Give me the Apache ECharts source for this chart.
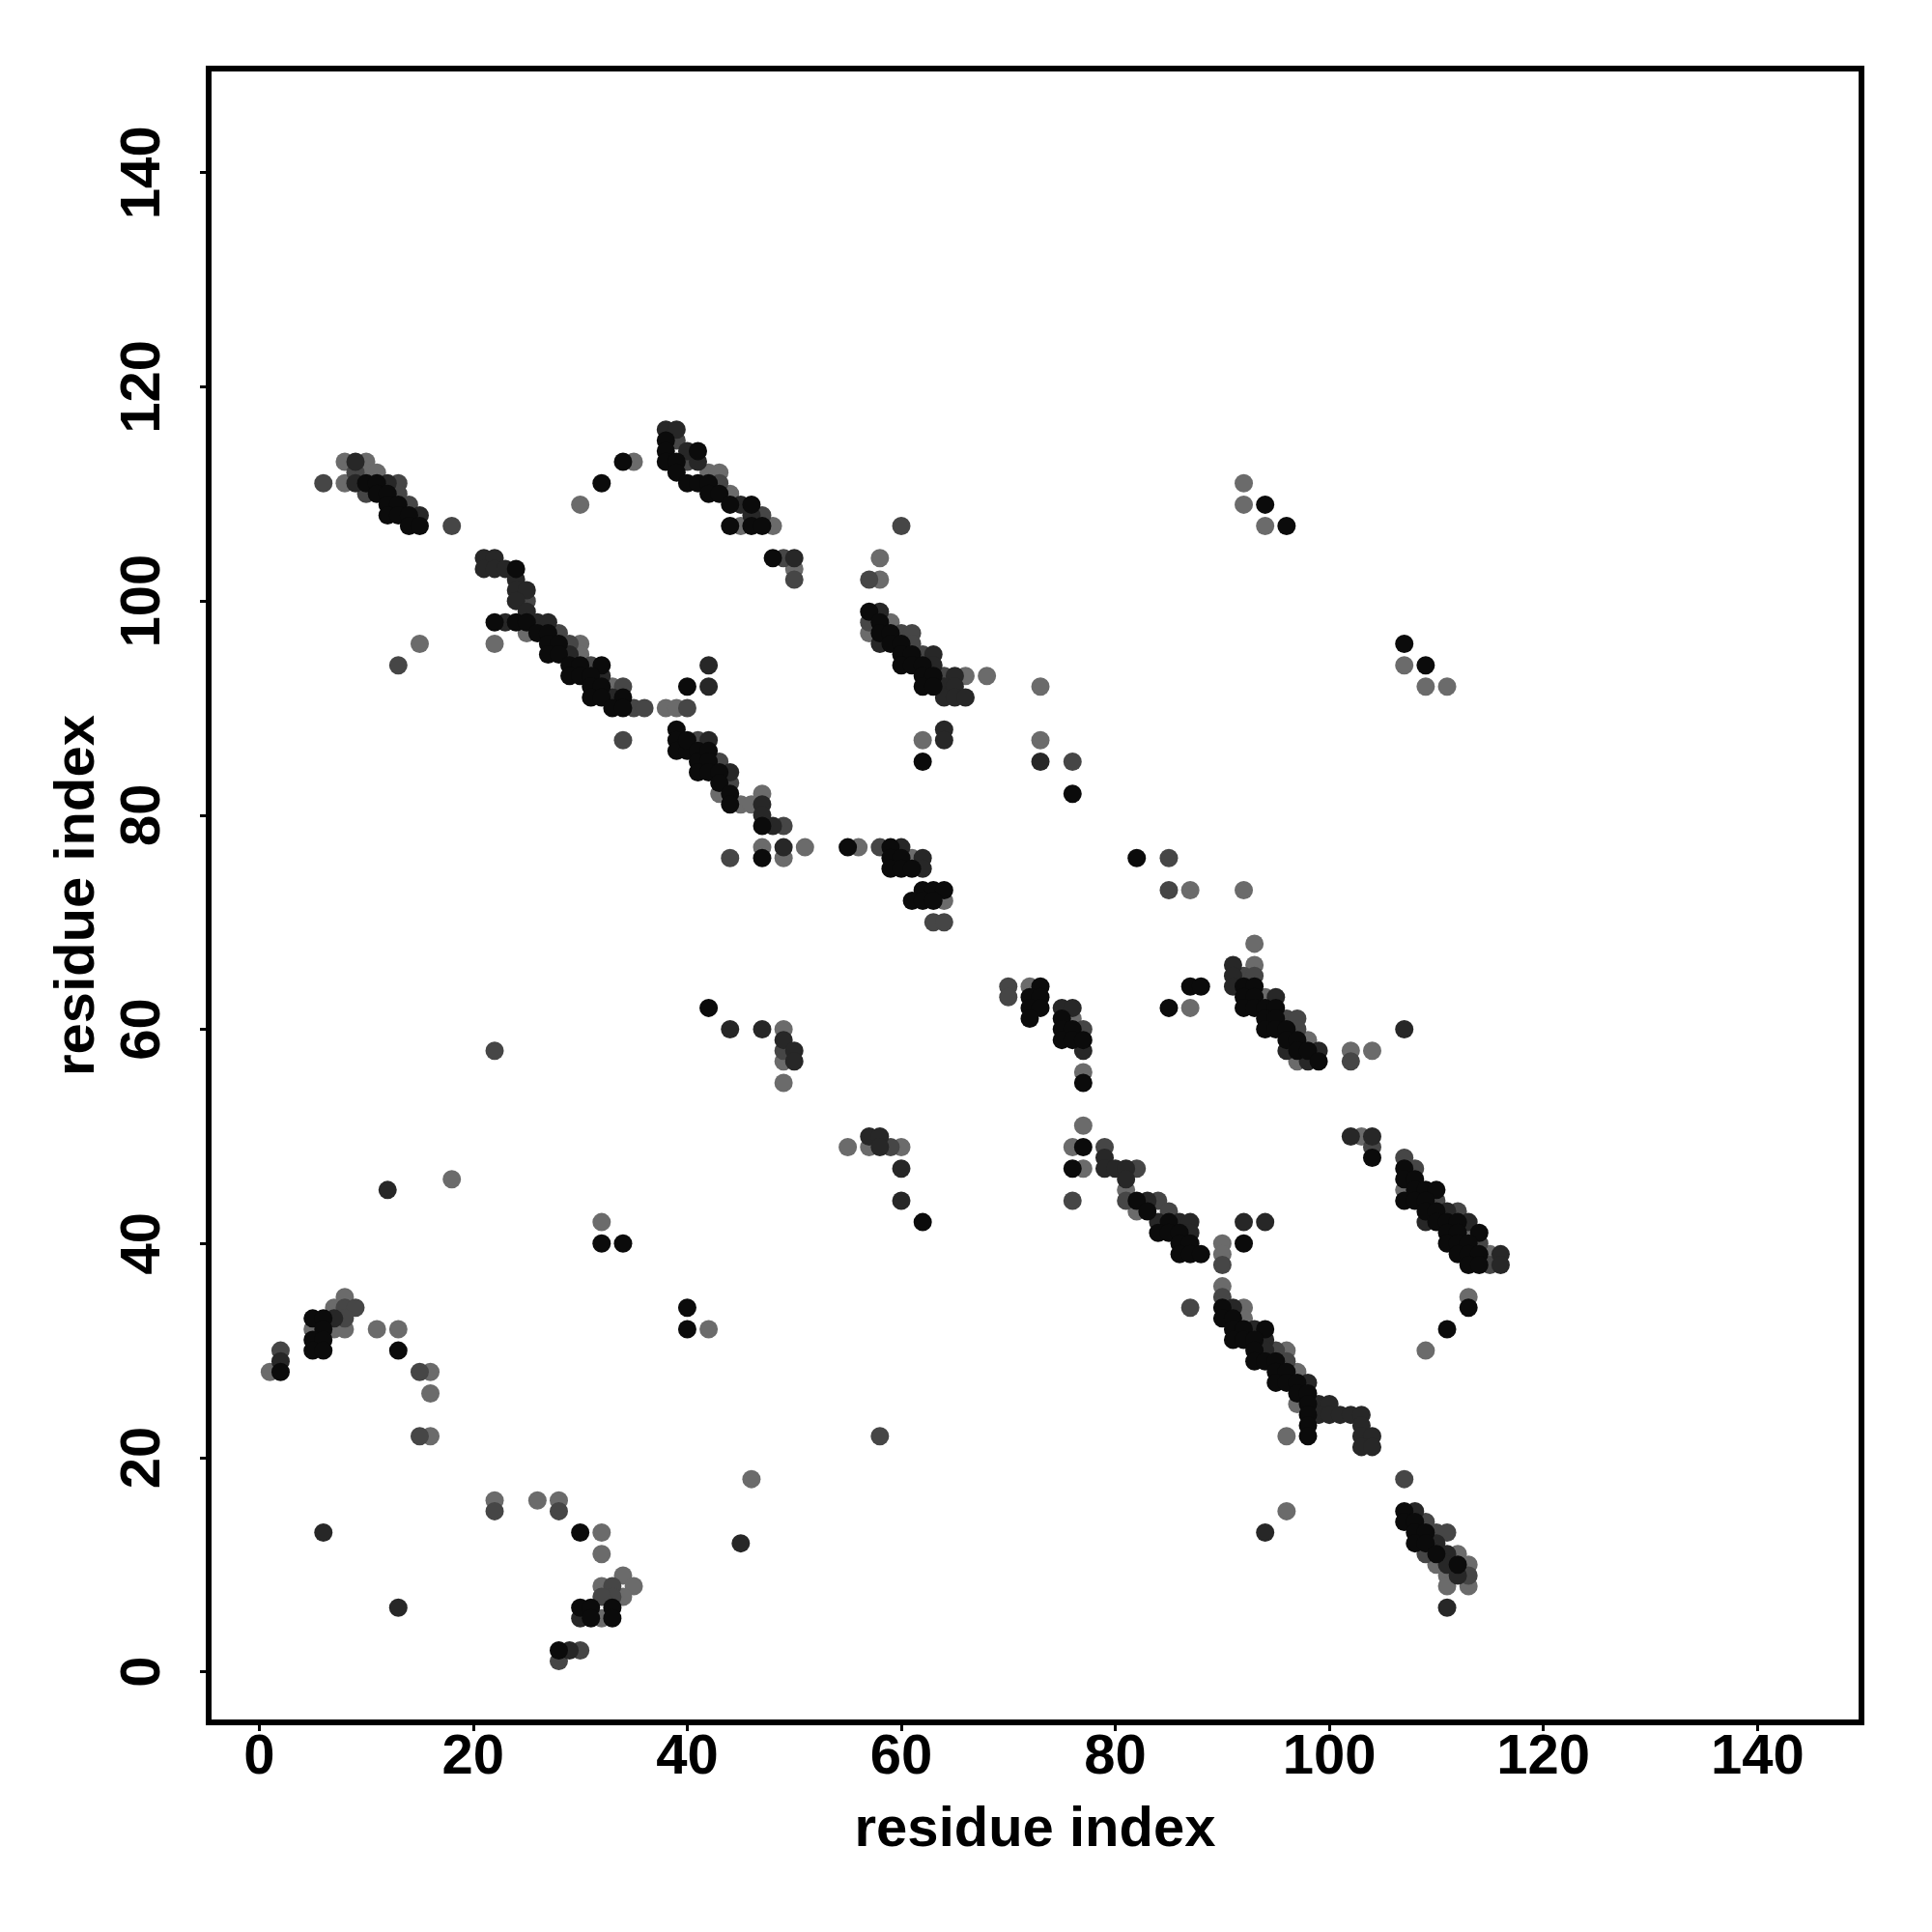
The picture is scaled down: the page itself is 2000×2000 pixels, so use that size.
<!DOCTYPE html>
<html>
<head>
<meta charset="utf-8">
<script src="https://cdn.jsdelivr.net/npm/echarts@6/dist/echarts.min.js"></script>
<style>
html,body{margin:0;padding:0;background:#fff;}
#chart{width:2000px;height:2000px;}
</style>
</head>
<body>
<div id="chart"></div>
<script>
// tick values
const tickValues = [0, 20, 40, 60, 80, 100, 120, 140];

// contact points [i, j] grouped by grey shade
const blackPts = [
[10,111],[11,111],[11,110],[12,110],[12,109],[13,109],[12,108],[13,108],[14,108],[14,107],[15,107],
[34,113],[32,111],[38,115],[38,114],[41,114],[38,113],[39,113],[39,112],[40,111],[41,111],[42,111],[42,110],[43,110],[44,109],[46,109],[44,107],[46,107],[47,107],[48,104],
[24,103],[22,98],[24,98],[25,98],[26,97],[27,97],[27,96],[28,96],[27,95],[28,95],[29,94],[30,94],[32,94],[29,93],[30,93],[31,93],[31,92],[32,92],[31,91],[32,91],[34,91],[33,90],[34,90],
[39,88],[39,87],[39,86],[40,86],[40,87],[41,86],[41,85],[42,86],[42,85],[41,84],[42,84],[43,84],[43,83],[44,82],[44,81],[47,79],[47,76],[40,92],
[57,99],[58,98],[58,97],[59,97],[59,96],[60,96],[60,95],[61,95],[60,94],[61,94],[62,94],[62,93],[63,93],[62,92],[63,92],[62,85],[76,82],
[55,77],[59,77],[59,76],[60,76],[59,75],[60,75],[61,75],[62,73],[63,73],[64,73],[61,72],[62,72],[63,72],
[42,62],[73,64],[72,63],[73,63],[72,62],[73,62],[72,61],[75,61],[75,60],[76,60],[75,59],[76,59],[77,59],[77,55],[62,42],
[77,49],[76,47],[82,44],[83,43],[85,42],[84,41],[85,41],[86,41],[86,40],[87,40],[86,39],[87,39],[88,39],[92,40],
[92,64],[93,64],[92,63],[93,63],[92,62],[93,62],[94,62],[95,62],[94,61],[95,61],[94,60],[95,60],[96,60],[96,59],[97,59],[97,58],[98,58],[99,57],[87,64],[88,64],[85,62],[82,76],
[104,48],[107,47],[107,46],[108,46],[108,45],[109,45],[110,45],[107,44],[108,44],[109,44],[109,43],[110,43],[110,42],[111,42],[112,42],[111,41],[112,41],[114,41],[111,40],[112,40],[113,40],[112,39],[113,39],[114,39],[113,38],[114,38],
[90,34],[90,33],[91,33],[91,32],[92,32],[94,32],[91,31],[92,31],[93,31],[93,30],[93,29],[94,29],[95,29],[95,28],[96,28],[95,27],[96,27],[97,27],[97,26],[98,26],[98,25],[98,24],[98,23],[98,22],
[107,15],[107,14],[108,14],[108,13],[109,13],[108,12],[109,12],[110,11],[112,10],
[94,109],[96,107],[107,96],[109,94],[113,34],[111,32],
[2,28],[5,33],[6,33],[6,32],[5,31],[6,31],[5,30],[6,30],[13,30],[30,13],[30,6],[31,6],[33,6],[31,5],[33,5],[28,2],
[40,34],[40,32],[32,40],[34,40]
];
const darkPts = [
[9,113],[9,111],[12,111],[15,108],
[38,116],[39,116],[40,114],[41,113],[45,109],[46,108],[50,104],
[21,104],[22,104],[21,103],[22,103],[23,103],[24,102],[24,101],[25,101],[24,100],[25,99],[23,98],[26,98],[27,98],[29,95],[32,93],[33,91],
[42,87],[44,84],[47,81],[47,80],[48,79],[49,77],[42,94],[42,92],
[58,99],[58,96],[63,95],[63,94],[65,93],[64,92],[65,92],[64,91],[65,91],[66,91],[64,88],[64,87],[73,85],
[60,77],[62,76],[62,75],
[44,60],[47,60],[49,59],[50,58],[50,57],[12,45],
[75,62],[76,62],[77,58],
[57,50],[58,50],[58,49],[60,47],[60,44],
[79,48],[79,47],[80,47],[81,47],[81,46],[83,44],[84,42],[86,42],[87,42],[87,41],[92,42],[94,42],
[91,66],[91,65],[91,64],[95,63],[96,58],[99,58],[98,57],[107,60],
[102,50],[104,50],[111,43],[109,42],[113,42],[116,39],[116,38],
[91,34],[93,32],[94,31],[94,30],[98,27],[99,25],[100,25],[99,24],[100,24],[101,24],[102,24],[103,24],[103,23],[103,22],[104,22],[103,21],[104,21],[94,13],
[108,15],[110,12],[111,11],[111,10],[112,9],[111,6],
[2,29],[7,33],[6,13],[13,6],[29,2],[30,5],[45,12]
];
const midPts = [
[6,111],[9,112],[13,111],[10,110],[13,110],[14,109],[18,107],
[39,115],[40,113],[43,111],[47,108],[49,104],[50,102],
[25,100],[28,97],[29,96],[31,94],[34,92],[35,90],[36,90],[40,90],[13,94],[34,87],
[41,87],[43,85],[44,83],[49,79],[44,76],
[57,98],[60,97],[61,97],[61,96],[62,95],[64,93],[60,107],[57,102],[76,85],
[58,77],[63,70],[64,70],
[49,58],[22,58],
[70,64],[70,63],[77,60],
[59,49],
[79,49],[76,44],[82,47],[81,44],[84,44],[85,43],[90,38],
[92,65],[93,65],[96,61],[97,61],[97,60],[85,76],[85,73],[102,57],
[104,49],[107,48],[108,47],[110,44],[112,43],[114,40],[115,38],
[90,35],[87,34],[95,30],[96,29],
[107,18],[109,14],[110,13],[111,13],[109,11],[113,9],
[2,30],[8,34],[9,34],[8,33],[15,28],[15,22],[22,15],[28,15],[33,8],[33,7],[32,7],[30,2],[28,1],[58,22]
];
const grayPts = [
[8,113],[8,111],[10,113],[10,112],[11,112],
[35,113],[30,109],[42,112],[43,112],[44,110],[45,107],[48,107],[50,103],
[25,97],[30,96],[30,95],[33,92],[38,90],[39,90],[15,96],[22,96],
[43,82],[45,81],[46,81],[47,82],[47,77],[49,76],[51,77],
[57,97],[59,98],[66,93],[68,93],[58,104],[58,102],[62,87],[73,92],[73,87],
[56,77],[61,76],[64,72],
[49,60],[49,57],[49,55],[18,46],
[72,64],[76,61],[77,56],[77,51],
[55,49],[57,49],[60,49],
[76,49],[77,47],[81,45],[82,43],[90,40],[90,39],
[93,66],[94,63],[98,59],[97,57],[93,68],[87,62],[87,73],[92,73],[102,58],[104,58],
[103,50],[107,45],[113,41],[115,39],
[90,36],[92,34],[92,33],[96,30],[97,28],[97,25],[96,22],[96,15],
[112,11],[110,10],[113,10],[111,9],[111,8],[113,8],
[92,111],[92,109],[94,107],[107,94],[109,92],[111,92],[113,35],[109,30],
[1,28],[5,32],[7,34],[8,35],[7,32],[8,32],[11,32],[13,32],[16,28],[16,26],[16,22],
[22,16],[26,16],[28,16],[32,13],[32,11],[34,9],[35,8],[32,8],[34,7],[32,5],
[42,32],[46,18],[32,42]
];

const shadeColors = ['#0b0b0b', '#272727', '#464646', '#6b6b6b'];
const FONT = '"Liberation Sans", Arial, Helvetica, sans-serif';

const chart = echarts.init(document.getElementById('chart'), null, {renderer: 'canvas'});

function mkSeries(name, data, color) {
  return {
    name: name, type: 'scatter', data: data, symbol: 'circle', symbolSize: 19,
    itemStyle: {color: color, opacity: 1}, silent: true
  };
}

const axisCommon = {
  type: 'value',
  min: -4.72, max: 149.72,
  splitLine: {show: false},
  axisLine: {show: false, onZero: false},
  axisTick: {show: true, inside: false, length: 9, customValues: tickValues, lineStyle: {color: '#000', width: 3}},
  nameLocation: 'middle',
  nameTextStyle: {fontSize: 58, fontWeight: 'bold', color: '#000', fontFamily: FONT}
};

chart.setOption({
  animation: false,
  backgroundColor: '#fff',
  grid: {left: 216, top: 71, width: 1711, height: 1712, show: true, borderColor: '#000', borderWidth: 6, containLabel: false},
  xAxis: Object.assign({}, axisCommon, {
    name: 'residue index', nameGap: 83,
    axisLabel: {customValues: tickValues, fontSize: 58, fontWeight: 'bold', color: '#000', fontFamily: FONT, margin: 8}
  }),
  yAxis: Object.assign({}, axisCommon, {
    name: 'residue index', nameGap: 106, nameRotate: 90,
    axisLabel: {customValues: tickValues, fontSize: 58, fontWeight: 'bold', color: '#000', fontFamily: FONT, margin: 38, rotate: 90}
  }),
  series: [
    mkSeries('gray', grayPts, shadeColors[3]),
    mkSeries('mid', midPts, shadeColors[2]),
    mkSeries('dark', darkPts, shadeColors[1]),
    mkSeries('black', blackPts, shadeColors[0])
  ]
});
</script>
</body>
</html>
